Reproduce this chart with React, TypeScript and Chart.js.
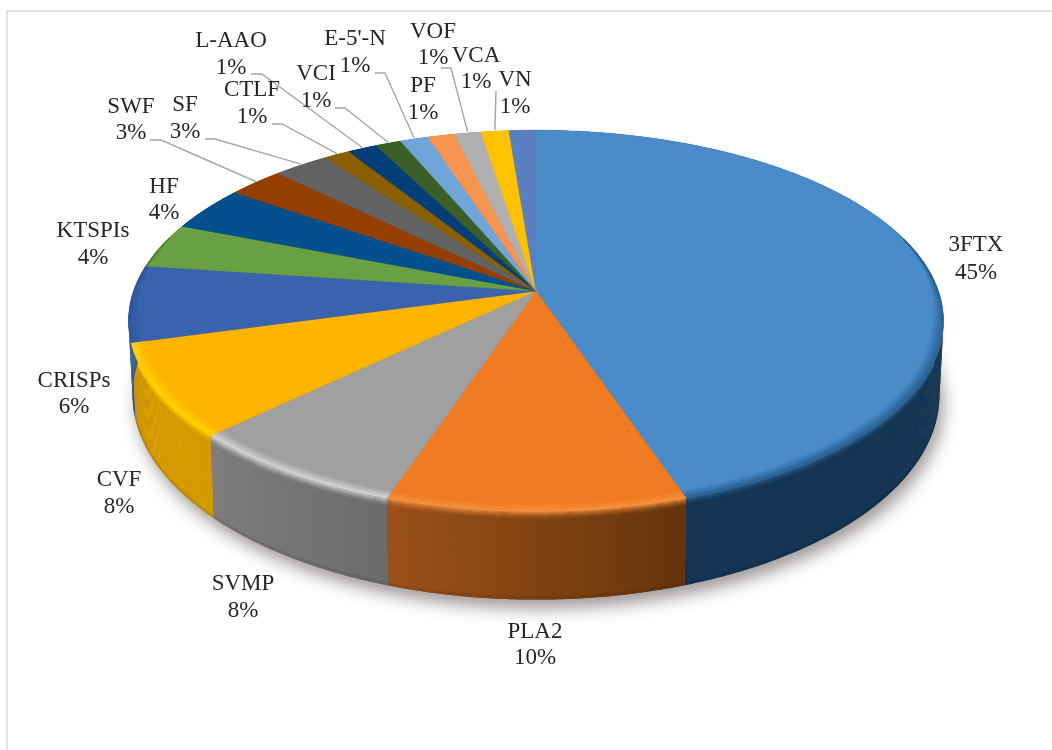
import React, { useEffect, useRef } from "react";
import { Chart, registerables } from "chart.js";

Chart.register(...registerables);

// ---- data ----
const categories = ["3FTX", "PLA2", "SVMP", "CVF", "CRISPs", "KTSPIs", "HF", "SWF", "SF", "CTLF", "L-AAO", "VCI", "E-5'-N", "PF", "VOF", "VCA", "VN"];
const sharePercent = [44.85, 10.25, 7.7, 7.9, 6.49, 3.8, 3.8, 2.6, 2.55, 1.22, 1.33, 1.2, 1.3, 1.25, 1.22, 1.29, 1.24];
const percentLabels = ["45%", "10%", "8%", "8%", "6%", "4%", "4%", "3%", "3%", "1%", "1%", "1%", "1%", "1%", "1%", "1%", "1%"];

// ---- styles ----
const faceColors = ["#4a8cca", "#f07b22", "#a0a0a0", "#ffb400", "#3a63ae", "#69a043", "#044f8e", "#943e02", "#636363", "#8a5f00", "#033e78", "#3a5f28", "#6fa5d8", "#f79550", "#b0b0b0", "#ffc200", "#5b80c2"];
const rimColors = ["#2a6193", "#f39040", "#d4d4d4", "#ffd400", "#2d5699", "#55843a", "#04437a", "#7d3402", "#555555", "#735000", "#033465", "#304f21", "#5d8ab5", "#d07a40", "#949494", "#d6a300", "#4b6ba3"];
const wallFrom = ["#143654", "#65340c", "#6c6c6c", "#d49a00", "#2f5c9e", "#4a7030", "#033a68", "#6a2c01", "#474747", "#624400", "#022c55", "#29441c", "#4f759a", "#b06838", "#7e7e7e", "#b58a00", "#40598a"];
const wallTo = ["#143654", "#9c5219", "#7e7e7e", "#e0a000", "#2a5594", "#4a7030", "#033a68", "#6a2c01", "#474747", "#624400", "#022c55", "#29441c", "#4f759a", "#b06838", "#7e7e7e", "#b58a00", "#40598a"];

// ---- layout of the text blocks: centre x, first line y, second line y, leader start ----
const labelX = [976, 535, 243, 119, 74, 93, 164, 131, 185, 252, 231, 316, 355, 423, 433, 476, 515];
const labelY1 = [245, 632, 584, 480, 381, 231, 187, 107, 105, 90, 41, 74, 39, 86, 32, 56, 80];
const labelY2 = [273, 658, 611, 507, 407, 258, 213, 133, 132, 117, 68, 101, 66, 113, 58, 82, 107];
const leaderStart: (number[] | null)[] = [null, null, null, null, null, null, null, [150, 140, 161, 140], [205, 139, 215, 139], [272, 124, 282, 124], [251, 74, 262, 74], [335, 108, 345, 108], [375, 73, 385, 73], null, [441, 68, 451, 68], [496, 91], null];

// perspective disc
const CX = 536, CY = 291, AX = 402.4, BY = 186, P = 0.157;
const project = (theta: number, r = 1) => {
  const u = r * Math.sin(theta), v = r * Math.cos(theta), w = 1 + P * v;
  return { x: CX + (AX * u) / w, y: CY - (BY * v) / w };
};
const lower = (p: { x: number; y: number }) => ({
  x: CX + (p.x - CX) * 0.99,
  y: p.y + 60 + (p.y - 130) * 0.0733,
});
const STEP = (0.5 * Math.PI) / 180;
const mix = (a: string, b: string, t: number) => {
  const n = (s: string, i: number) => parseInt(s.slice(1 + 2 * i, 3 + 2 * i), 16);
  const c = [0, 1, 2].map((i) => Math.round(n(a, i) + (n(b, i) - n(a, i)) * t));
  return `rgb(${c[0]},${c[1]},${c[2]})`;
};

const pie3d = {
  id: "pie3d",
  afterDatasetsDraw(chart: any) {
    const ctx: CanvasRenderingContext2D = chart.ctx;
    const arcs = chart.getDatasetMeta(0).data;
    const spans = arcs.map((a: any) => [a.startAngle + Math.PI / 2, a.endAngle + Math.PI / 2]);
    ctx.save();

    // frame
    ctx.strokeStyle = "#e2e2e2";
    ctx.lineWidth = 2;
    ctx.beginPath();
    ctx.moveTo(7, 750);
    ctx.lineTo(7, 11);
    ctx.lineTo(1052, 11);
    ctx.stroke();

    // soft shadow below the disc
    ctx.save();
    ctx.shadowColor = "rgba(70,55,55,0.5)";
    ctx.shadowBlur = 16;
    ctx.shadowOffsetX = 4;
    ctx.shadowOffsetY = 9;
    ctx.fillStyle = "#555";
    ctx.beginPath();
    for (let t = 0; t <= Math.PI * 2 + 0.001; t += STEP) {
      const p = lower(project(t));
      ctx.lineTo(p.x, p.y);
    }
    ctx.closePath();
    ctx.fill();
    ctx.restore();

    const strokeAlong = (s: number, e: number, f: (t: number) => { x: number; y: number } | null) => {
      ctx.beginPath();
      let on = false;
      for (let t = s; ; t += STEP) {
        const p = f(Math.min(t, e));
        if (p) {
          if (on) ctx.lineTo(p.x, p.y);
          else ctx.moveTo(p.x, p.y);
          on = true;
        }
        if (t >= e) break;
      }
      ctx.stroke();
    };

    // outer wall: flat strips, then soft edges along its upper and lower curve
    spans.forEach(([s, e]: number[], i: number) => {
      for (let t = s; t < e; t += STEP) {
        const t2 = Math.min(t + STEP * 1.3, e);
        const a = project(t), b = project(t2);
        const c = lower(b), d = lower(a);
        ctx.fillStyle = mix(wallFrom[i], wallTo[i], (t - s) / (e - s));
        ctx.beginPath();
        ctx.moveTo(a.x, a.y);
        ctx.lineTo(b.x, b.y);
        ctx.lineTo(c.x, c.y);
        ctx.lineTo(d.x, d.y);
        ctx.closePath();
        ctx.fill();
      }
      // clip the soft edges to this slice's wall
      ctx.save();
      ctx.beginPath();
      for (let t = s; ; t += STEP) {
        const p = project(Math.min(t, e));
        ctx.lineTo(p.x, p.y);
        if (t >= e) break;
      }
      for (let t = e; ; t -= STEP) {
        const p = lower(project(Math.max(t, s)));
        ctx.lineTo(p.x, p.y);
        if (t <= s) break;
      }
      ctx.closePath();
      ctx.clip();
      ctx.lineWidth = 1.2;
      ctx.strokeStyle = rimColors[i];
      for (let k = 8; k >= 0; k--) {
        ctx.globalAlpha = 0.85 * (1 - k / 9) * (1 - k / 9);
        strokeAlong(s, e, (t) => {
          const p = project(t);
          return { x: p.x, y: p.y + k };
        });
      }
      ctx.strokeStyle = "#000000";
      for (let k = 3; k >= 0; k--) {
        ctx.globalAlpha = 0.06;
        strokeAlong(s, e, (t) => {
          const p = lower(project(t));
          return { x: p.x, y: p.y - k };
        });
      }
      ctx.restore();
    });

    // top face
    spans.forEach(([s, e]: number[], i: number) => {
      ctx.fillStyle = faceColors[i];
      ctx.strokeStyle = faceColors[i];
      ctx.lineWidth = 0.5;
      ctx.beginPath();
      ctx.moveTo(CX, CY);
      for (let t = s; ; t += STEP) {
        const p = project(Math.min(t, e));
        ctx.lineTo(p.x, p.y);
        if (t >= e) break;
      }
      ctx.closePath();
      ctx.fill();
      ctx.stroke();
    });

    // bevel on the near rim of the top face, kept inside the disc
    ctx.save();
    ctx.beginPath();
    for (let t = 0; t <= Math.PI * 2 + 0.001; t += STEP) {
      const p = project(t);
      ctx.lineTo(p.x, p.y);
    }
    ctx.closePath();
    ctx.clip();
    const LAYERS = 7;
    spans.forEach(([s, e]: number[], i: number) => {
      for (let k = 0; k <= LAYERS; k++) {
        const frac = k / LAYERS;
        ctx.strokeStyle = mix(faceColors[i], rimColors[i], frac);
        ctx.lineWidth = 2.2;
        strokeAlong(s, e, (t) => {
          const v = Math.cos(t);
          const w = 0.03 * Math.max(0, Math.min(1, (0.3 - v) / 0.5));
          if (w <= 0) return null;
          return project(t, 1 - w * (1 - frac));
        });
      }
    });
    ctx.restore();

    // leader lines, ending on the middle of their slice
    ctx.strokeStyle = "#a6a6a6";
    ctx.lineWidth = 1.4;
    leaderStart.forEach((pts, i) => {
      if (!pts) return;
      const end = project((spans[i][0] + spans[i][1]) / 2);
      ctx.beginPath();
      ctx.moveTo(pts[0], pts[1]);
      for (let k = 2; k < pts.length; k += 2) ctx.lineTo(pts[k], pts[k + 1]);
      ctx.lineTo(end.x, end.y - 1);
      ctx.stroke();
    });

    // labels
    ctx.fillStyle = "#262626";
    ctx.font = '23px "Liberation Serif"';
    ctx.textAlign = "center";
    ctx.textBaseline = "middle";
    categories.forEach((name, i) => {
      ctx.fillText(name, labelX[i], labelY1[i]);
      ctx.fillText(percentLabels[i], labelX[i], labelY2[i]);
    });
    ctx.restore();
  },
};

export default function App() {
  const ref = useRef<HTMLCanvasElement>(null);
  useEffect(() => {
    const chart = new Chart(ref.current!, {
      type: "pie",
      data: {
        labels: categories,
        datasets: [{ data: sharePercent, backgroundColor: "rgba(0,0,0,0)", borderWidth: 0 }],
      },
      options: {
        responsive: false,
        animation: false,
        plugins: { legend: { display: false }, tooltip: { enabled: false } },
      },
      plugins: [pie3d],
    } as any);
    return () => chart.destroy();
  }, []);
  return (
    <div style={{ position: "absolute", left: 0, top: 0, width: 1052, height: 750, background: "#fff" }}>
      <canvas ref={ref} width={1052} height={750} style={{ display: "block" }} />
    </div>
  );
}
